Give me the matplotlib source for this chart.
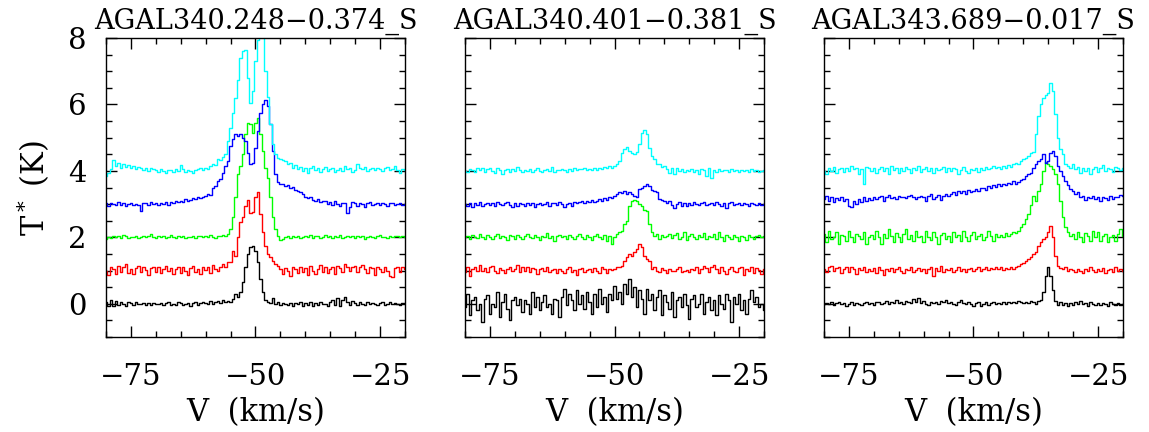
import numpy as np
import matplotlib
matplotlib.use('Agg')
import matplotlib.pyplot as plt
from matplotlib.ticker import MultipleLocator

plt.rcParams['font.family'] = 'DejaVu Serif'
plt.rcParams['mathtext.fontset'] = 'dejavuserif'

# channel grid (km/s)
v_start = -80.0
v_step = 0.5
v = np.arange(121) * v_step + v_start

titles = ['AGAL340.248\u22120.374_S', 'AGAL340.401\u22120.381_S', 'AGAL343.689\u22120.017_S']
offsets = [0, 1, 2, 3, 4]
colors = ['black', 'red', '#00ff00', 'blue', 'cyan']

# ---- AGAL340.248-0.374 (T* with offsets removed)
s1_black = [0.05,-0.08,0.1,-0.06,0.08,-0.05,0.06,0.0,-0.07,0.05,
            0.02,-0.04,0.04,-0.02,0.0,0.03,-0.05,0.02,-0.03,0.01,
            0.0,-0.02,0.03,-0.04,0.02,0.05,-0.03,0.0,-0.05,0.04,
            0.01,-0.04,-0.02,0.03,-0.06,0.02,0.04,-0.05,0.03,0.06,
            0.02,0.0,0.08,-0.02,0.05,0.07,0.03,0.12,0.05,0.08,
            0.06,0.15,0.28,0.2,0.35,0.65,1.1,1.5,1.7,1.75,
            1.6,1.25,0.75,0.35,0.12,0.05,0.02,0.18,-0.02,0.04,
            -0.05,0.03,0.0,-0.04,0.02,-0.06,0.03,-0.02,0.05,-0.08,
            0.02,-0.05,0.04,-0.07,0.01,-0.03,0.06,-0.02,0.0,-0.08,
            0.05,0.12,-0.04,0.18,-0.06,0.1,0.2,0.05,-0.03,0.08,
            0.02,-0.04,0.05,0.0,-0.03,0.04,-0.02,0.03,0.0,-0.03,
            0.02,0.04,-0.03,0.0,0.05,-0.02,0.03,0.0,-0.03,0.02,0.01]
s1_red = [0.0,-0.12,0.1,0.05,-0.1,0.15,-0.05,0.12,0.2,-0.08,
          0.05,-0.1,0.08,0.15,-0.05,0.1,0.02,-0.12,0.08,0.12,
          -0.05,0.1,-0.08,0.05,0.15,-0.02,0.08,-0.1,0.05,0.12,
          -0.06,0.1,0.0,-0.12,0.08,0.14,-0.04,0.06,-0.1,0.1,
          0.02,0.12,-0.08,0.18,0.05,0.0,0.12,0.2,0.1,0.25,
          0.25,0.6,0.45,1.0,1.45,1.6,1.95,2.13,1.72,1.75,
          2.2,2.36,1.7,1.15,0.75,0.5,0.4,0.28,0.2,0.15,
          0.05,-0.1,0.08,0.0,-0.15,0.1,0.05,-0.08,0.12,-0.05,
          0.08,-0.12,0.15,0.0,-0.1,0.05,0.18,-0.05,0.1,-0.08,
          0.05,0.12,-0.1,0.15,0.08,-0.05,0.2,0.1,0.0,0.12,
          0.15,-0.05,0.1,0.18,0.05,-0.08,0.12,0.08,-0.12,0.1,
          0.05,-0.05,0.1,0.0,-0.15,-0.2,0.08,0.12,-0.05,0.1,0.05]
s1_green = [-0.05,0.02,-0.03,0.05,0.0,0.04,-0.02,0.06,0.03,-0.01,
            0.02,0.0,0.04,-0.03,0.02,0.05,0.0,0.03,0.1,0.02,
            -0.02,0.03,0.0,0.05,-0.03,0.02,0.06,0.0,-0.02,0.04,
            0.01,0.05,-0.03,0.02,0.0,0.04,-0.02,0.03,0.05,0.01,
            0.04,0.0,0.06,0.02,-0.01,0.05,0.03,0.08,0.05,0.1,
            0.25,0.6,1.2,1.9,2.15,2.5,3.1,3.45,3.4,3.13,
            3.45,3.58,3.1,2.6,2.1,1.8,1.2,0.6,0.25,0.05,
            -0.08,-0.05,0.0,0.04,-0.02,0.03,0.0,0.05,-0.03,0.02,
            0.04,0.0,0.06,-0.02,0.03,0.05,-0.01,0.02,0.07,0.0,
            0.03,-0.02,0.04,0.01,0.06,-0.03,0.02,0.05,0.0,0.03,
            -0.02,0.04,0.0,0.03,-0.04,0.02,0.05,0.01,-0.02,0.03,
            0.06,0.0,0.02,-0.03,0.04,0.01,0.05,0.03,0.0,0.04,0.02]
s1_blue = [0.02,-0.05,0.03,0.0,-0.04,0.05,-0.02,0.03,-0.06,0.01,
           0.03,-0.02,0.0,-0.03,-0.2,0.02,0.04,-0.03,0.05,0.0,
           0.02,-0.03,0.04,0.0,0.05,-0.02,0.06,0.03,0.08,0.05,
           0.1,0.07,0.15,0.1,0.12,0.18,0.14,0.2,0.17,0.22,
           0.25,0.3,0.28,0.5,0.55,0.7,0.75,0.95,1.15,1.3,
           1.75,1.95,2.1,2.05,2.1,2.0,1.9,1.55,1.2,1.25,
           1.7,2.2,2.75,3.0,3.13,2.95,2.4,1.6,0.9,0.66,
           0.6,0.62,0.55,0.58,0.5,0.52,0.42,0.4,0.35,0.3,
           0.22,0.18,0.2,0.12,0.1,0.15,0.05,0.08,0.1,0.0,
           0.05,-0.02,0.08,0.0,-0.05,0.03,0.02,-0.28,-0.1,0.05,
           0.02,-0.06,0.04,0.0,-0.08,0.03,0.05,-0.04,0.0,0.02,
           -0.03,0.04,0.0,-0.05,0.02,0.03,-0.04,0.0,0.02,-0.02,0.0]
s1_cyan = [-0.15,-0.05,0.05,0.32,0.15,0.25,0.1,0.2,0.12,0.18,
           0.08,0.15,0.05,0.12,0.1,0.02,0.08,0.0,0.1,0.05,
           0.03,-0.02,0.05,0.0,-0.05,0.04,0.02,-0.03,0.05,0.01,
           0.17,0.05,-0.02,0.04,0.0,-0.06,0.03,0.05,0.08,0.02,
           0.1,0.05,0.15,0.22,0.18,0.35,0.32,0.42,0.5,0.9,
           1.3,1.75,2.2,2.75,3.4,3.6,3.65,2.8,2.05,2.4,
           3.3,3.95,4.3,4.2,3.0,2.23,1.4,0.8,0.5,0.38,
           0.35,0.33,0.3,0.2,0.25,0.1,0.18,0.05,0.12,0.0,
           0.1,-0.05,0.08,0.15,0.02,0.1,-0.03,0.05,0.12,0.0,
           0.05,0.08,-0.02,0.04,0.1,0.0,0.15,0.05,0.08,-0.03,
           0.04,0.2,0.1,0.05,0.12,0.0,0.06,0.1,0.03,0.08,
           0.05,0.0,0.08,0.12,0.02,0.05,0.15,0.03,-0.05,0.05,0.02]

# ---- AGAL340.401-0.381
s2_black = [-0.1,0.3,-0.35,0.1,0.2,-0.2,0.0,-0.55,0.15,0.25,
            -0.3,0.0,-0.1,0.35,-0.4,0.05,0.3,-0.15,-0.5,0.1,
            0.2,-0.05,0.15,-0.25,0.1,0.0,-0.3,0.35,-0.1,0.2,
            -0.2,0.05,0.25,-0.1,0.0,-0.3,0.15,0.1,-0.4,0.2,
            0.45,-0.05,0.3,0.1,-0.2,0.4,0.0,0.25,-0.15,0.35,
            0.05,-0.3,0.3,-0.1,0.45,0.0,0.2,-0.25,0.3,0.1,
            0.55,0.15,0.35,0.0,0.6,0.3,0.75,0.2,0.5,-0.1,
            0.4,0.15,-0.3,0.45,0.1,0.3,-0.2,0.2,0.4,-0.35,
            0.25,0.05,-0.15,0.35,-0.4,0.1,0.2,-0.1,0.3,-0.05,
            -0.45,0.15,0.25,-0.1,0.0,0.3,-0.3,0.05,0.2,-0.2,
            0.1,-0.35,0.25,0.0,-0.15,0.3,0.1,-0.55,0.2,0.0,
            0.3,-0.2,0.1,-0.3,0.15,0.4,0.05,0.2,-0.1,0.0,-0.2]
s2_red = [-0.05,0.1,-0.15,0.05,0.12,-0.02,0.18,0.0,0.08,-0.05,
          0.1,0.15,0.0,-0.06,0.08,0.02,-0.08,0.05,0.12,-0.02,
          0.06,0.18,-0.05,0.1,0.0,0.12,-0.04,0.08,0.05,-0.1,
          0.04,0.08,-0.02,0.1,-0.05,0.02,0.06,-0.08,0.05,0.0,
          -0.06,0.05,0.1,-0.03,0.02,-0.12,0.04,0.08,-0.05,0.02,
          0.05,-0.04,0.08,0.0,-0.06,0.1,0.04,-0.08,0.05,0.02,
          0.06,0.1,0.12,0.15,0.3,0.4,0.5,0.45,0.55,0.65,
          0.8,0.7,0.45,0.36,0.3,0.06,0.12,0.0,-0.05,0.08,
          0.02,-0.06,0.05,0.0,-0.02,0.04,0.1,-0.05,0.0,0.03,
          -0.04,0.06,0.02,0.1,-0.08,0.05,0.15,0.08,-0.05,0.1,
          0.18,0.05,-0.08,0.12,0.0,-0.1,0.06,0.1,0.0,-0.05,
          0.08,0.12,-0.12,0.05,0.0,0.1,-0.06,0.08,0.02,-0.1,0.05]
s2_green = [0.0,0.05,-0.05,0.08,0.02,-0.03,0.1,0.0,-0.04,0.06,
            0.02,-0.06,0.04,0.1,-0.02,0.05,0.0,-0.08,0.06,0.03,
            -0.04,0.08,0.02,-0.05,0.05,0.1,0.0,-0.03,0.06,0.02,
            -0.08,0.04,0.0,0.12,-0.02,0.05,-0.1,0.03,0.06,0.0,
            0.04,-0.05,0.08,0.02,-0.06,0.05,0.1,0.0,-0.04,0.06,
            0.02,-0.08,0.05,0.1,0.0,-0.06,0.08,-0.12,0.04,-0.2,
            0.0,0.1,0.15,0.2,0.4,0.5,0.95,1.1,1.12,1.08,
            1.0,0.95,0.82,0.8,0.4,0.15,0.05,0.1,-0.05,0.08,
            0.0,0.05,0.1,-0.03,0.06,0.12,-0.05,0.0,0.15,-0.08,
            0.04,0.1,0.0,-0.05,0.08,0.02,0.12,-0.06,0.05,0.0,
            0.1,-0.04,0.15,0.0,-0.1,0.06,0.02,-0.05,0.08,0.0,
            -0.12,0.05,0.02,-0.08,0.06,0.0,-0.05,0.04,0.08,0.0,0.05]
s2_blue = [0.0,-0.05,0.03,-0.08,0.02,-0.04,0.05,-0.06,0.0,0.04,
           -0.03,0.02,-0.05,0.06,0.0,-0.04,0.03,0.05,-0.02,-0.1,
           0.02,-0.05,0.03,0.0,-0.06,0.04,-0.02,0.02,-0.08,0.0,
           0.03,-0.04,0.0,0.05,-0.05,0.02,0.04,-0.03,0.06,0.0,
           -0.08,0.0,0.03,-0.05,0.06,0.02,0.05,0.08,0.03,0.1,
           0.06,0.12,0.05,0.1,0.15,0.08,0.18,0.12,0.22,0.18,
           0.25,0.3,0.35,0.32,0.38,0.3,0.35,0.3,0.25,0.22,
           0.46,0.5,0.56,0.6,0.55,0.42,0.38,0.35,0.16,0.12,
           0.1,0.03,0.08,-0.02,-0.12,0.0,0.05,-0.05,0.02,-0.06,
           0.03,-0.03,0.05,0.0,-0.04,0.02,0.06,-0.02,0.0,0.04,
           -0.03,0.05,0.0,-0.06,0.03,-0.12,0.02,0.05,-0.03,0.0,
           0.04,-0.02,0.02,0.0,-0.05,0.03,0.0,-0.03,0.02,-0.02,0.0]
s2_cyan = [0.0,-0.03,0.05,0.02,-0.02,0.08,0.03,0.1,-0.02,0.05,
           0.08,0.0,-0.05,0.1,0.04,-0.08,0.02,0.06,-0.03,0.05,
           0.0,0.12,0.03,-0.02,0.04,0.0,0.06,-0.04,0.02,0.08,
           0.0,-0.02,0.03,0.05,0.0,0.12,-0.03,0.04,0.02,0.06,
           0.03,-0.04,0.05,0.0,0.08,0.02,0.06,0.05,0.1,0.03,
           0.06,0.04,0.08,0.02,0.1,0.05,0.12,0.08,0.15,0.1,
           0.15,0.2,0.3,0.55,0.65,0.72,0.6,0.55,0.5,0.58,
           0.8,1.15,1.23,1.1,0.7,0.45,0.35,0.22,0.2,0.12,
           0.15,0.05,-0.05,0.1,-0.1,0.08,0.0,0.05,-0.03,0.02,
           0.0,0.06,-0.02,0.04,-0.08,0.05,0.02,-0.15,0.08,-0.2,
           0.03,-0.03,0.06,0.0,0.04,0.02,-0.02,0.05,0.0,0.03,
           -0.02,0.04,0.0,0.03,-0.02,0.05,0.0,0.02,-0.03,0.0,0.02]

# ---- AGAL343.689-0.017
s3_black = [-0.02,0.03,0.0,0.05,-0.03,0.02,0.06,-0.02,0.03,-0.08,
            0.0,0.04,-0.03,0.02,0.0,-0.04,0.03,0.05,0.0,0.02,
            -0.03,0.04,0.06,0.0,0.03,0.08,-0.02,0.05,0.03,0.1,
            0.02,0.06,0.0,0.08,0.05,0.03,0.15,0.06,0.18,0.02,
            0.08,0.0,-0.03,0.04,0.02,0.06,0.0,0.08,0.05,0.12,
            0.02,0.06,0.0,-0.04,0.05,0.1,0.03,-0.02,0.05,0.0,
            -0.06,0.02,0.04,-0.08,0.0,0.05,-0.03,0.02,0.06,0.0,
            0.03,-0.02,0.05,0.0,0.04,0.02,0.06,0.03,0.08,0.05,
            0.02,0.06,0.03,0.08,0.05,0.0,0.08,0.1,0.35,0.85,
            1.1,0.85,0.4,0.08,-0.05,0.05,-0.05,0.02,-0.06,0.03,
            -0.04,0.05,0.0,0.08,-0.02,0.03,-0.06,0.04,0.0,-0.05,
            0.02,-0.04,0.03,0.0,-0.06,0.04,0.0,-0.05,0.02,-0.03,0.0]
s3_red = [0.05,-0.05,0.1,0.15,-0.02,0.08,0.12,-0.08,0.05,0.1,
          -0.05,0.1,0.05,-0.1,0.08,0.02,0.12,-0.04,0.06,0.0,
          0.08,-0.06,0.1,0.03,-0.12,0.05,0.0,0.08,-0.05,0.04,
          0.1,0.0,-0.08,0.06,0.03,0.12,-0.05,0.02,0.08,-0.02,
          0.05,-0.06,0.04,0.1,-0.15,0.08,0.0,0.15,-0.04,0.06,
          0.02,0.08,-0.05,0.03,0.1,0.0,0.06,-0.03,0.05,0.08,
          -0.02,0.04,0.1,0.0,0.06,0.12,0.03,0.08,0.05,0.12,
          0.06,0.1,0.02,0.08,0.05,0.1,0.06,0.12,0.15,0.2,
          0.22,0.3,0.35,0.4,0.5,0.55,0.75,0.85,0.95,1.0,
          1.15,1.35,1.0,0.45,0.15,0.08,0.05,0.1,0.0,0.06,
          0.02,-0.05,0.04,0.0,-0.08,0.05,-0.02,0.1,0.03,-0.04,
          0.06,0.0,0.08,-0.06,0.02,0.05,-0.03,0.1,0.0,0.04,-0.02]
s3_green = [0.1,-0.15,0.2,-0.05,0.0,0.15,-0.2,0.08,0.05,-0.1,
            0.2,0.0,-0.15,0.1,0.05,-0.05,0.15,-0.2,0.0,0.08,
            -0.05,0.2,0.0,-0.2,0.1,-0.02,0.25,0.05,-0.15,0.12,
            0.0,-0.15,0.1,0.25,-0.05,0.08,-0.1,0.2,0.0,0.05,
            -0.15,0.2,0.02,-0.08,0.15,0.0,-0.2,0.08,0.12,-0.05,
            0.05,-0.15,0.15,0.0,0.08,-0.1,0.2,0.02,-0.1,0.06,
            0.15,-0.05,0.05,0.1,-0.08,0.0,0.2,0.05,-0.1,0.1,
            0.02,0.08,0.0,0.12,0.05,0.1,0.15,0.12,0.2,0.3,
            0.4,0.55,0.7,0.96,1.25,1.1,1.4,1.6,2.0,2.27,
            2.2,2.15,2.05,1.9,1.6,1.1,0.6,0.3,0.15,0.05,
            0.1,-0.05,0.15,0.0,-0.15,0.12,0.05,-0.1,0.2,0.0,
            0.15,-0.1,0.05,0.1,-0.15,0.0,0.08,-0.1,0.1,0.25,0.05]
s3_blue = [0.15,0.25,0.1,0.2,0.05,0.18,0.12,0.22,0.08,0.15,
           -0.05,-0.1,0.1,0.0,0.15,0.05,0.2,0.1,0.18,0.12,
           0.22,0.15,0.2,0.25,0.1,0.2,0.28,0.18,0.22,0.15,
           0.25,0.2,0.22,0.18,0.25,0.28,0.2,0.15,0.22,0.25,
           0.2,0.1,0.25,0.3,0.15,0.22,0.28,0.12,0.25,0.3,
           0.25,0.3,0.35,0.28,0.4,0.32,0.38,0.3,0.42,0.35,
           0.4,0.45,0.38,0.48,0.5,0.42,0.55,0.5,0.58,0.52,
           0.6,0.55,0.62,0.58,0.65,0.6,0.7,0.62,0.68,0.72,
           0.75,0.85,0.9,0.95,1.1,1.2,1.3,1.35,1.5,1.25,
           1.3,1.55,1.6,1.45,1.15,1.0,0.85,0.7,0.58,0.45,
           0.4,0.3,0.35,0.2,0.25,0.12,0.22,0.18,0.25,0.15,
           0.2,0.1,0.22,0.18,0.12,0.25,0.15,0.2,0.22,0.28,0.25]
s3_cyan = [0.0,-0.1,0.08,0.0,0.12,-0.05,0.05,0.1,-0.03,0.08,
           0.0,0.15,0.05,0.1,-0.1,0.05,-0.38,0.12,0.08,0.0,
           0.1,-0.05,0.05,0.12,0.0,0.08,-0.08,0.15,0.02,0.1,
           -0.05,0.08,0.0,0.12,0.05,-0.06,0.1,0.03,0.15,-0.02,
           0.05,0.12,0.0,0.08,-0.05,0.1,0.02,0.06,0.12,-0.04,
           0.08,0.0,0.1,0.05,-0.08,0.04,0.12,0.0,-0.05,0.06,
           0.02,0.1,-0.02,0.08,0.04,0.12,0.05,0.1,0.15,0.08,
           0.12,0.05,0.15,0.1,0.18,0.12,0.2,0.25,0.2,0.3,
           0.35,0.4,0.45,0.55,0.58,1.1,1.65,2.0,2.2,2.28,
           2.35,2.64,2.4,1.7,1.0,0.65,0.5,0.22,0.15,0.1,
           0.2,0.05,0.12,-0.05,0.08,0.0,0.1,-0.08,0.05,0.12,
           -0.02,0.08,0.18,0.0,0.1,0.05,-0.03,0.12,0.08,0.02,0.1]

spectra = [[s1_black, s1_red, s1_green, s1_blue, s1_cyan],
           [s2_black, s2_red, s2_green, s2_blue, s2_cyan],
           [s3_black, s3_red, s3_green, s3_blue, s3_cyan]]

W, H = 1149, 432
fig = plt.figure(figsize=(W / 100, H / 100), dpi=100)
lefts = [106, 465, 824]

for k in range(3):
    ax = fig.add_axes([lefts[k] / W, (H - 337) / H, 299 / W, 299 / H])
    for s, off, c in zip(spectra[k], offsets, colors):
        ax.plot(v, np.array(s) + off, drawstyle='steps-mid', color=c, lw=1.0)
    ax.set_xlim(-80, -20)
    ax.set_ylim(-1, 8)
    ax.xaxis.set_major_locator(MultipleLocator(25))
    ax.xaxis.set_minor_locator(MultipleLocator(5))
    ax.yaxis.set_major_locator(MultipleLocator(2))
    ax.yaxis.set_minor_locator(MultipleLocator(0.5))
    ax.tick_params(which='both', direction='in', top=True, right=True, width=1.0, labelsize=21)
    ax.tick_params(which='major', length=8)
    ax.tick_params(which='minor', length=4)
    ax.tick_params(axis='x', pad=19)
    ax.tick_params(axis='y', pad=14, labelleft=(k == 0))
    for sp in ax.spines.values():
        sp.set_linewidth(1.0)
    ax.set_title(titles[k], fontsize=19.5, pad=7)
    ax.set_xlabel('V  (km/s)', fontsize=22, labelpad=4)

fig.text(33 / W, 1 - 188 / H, r'T$^*$ (K)', rotation=90, ha='center', va='center', fontsize=22)

fig.savefig('out.png', dpi=100)
